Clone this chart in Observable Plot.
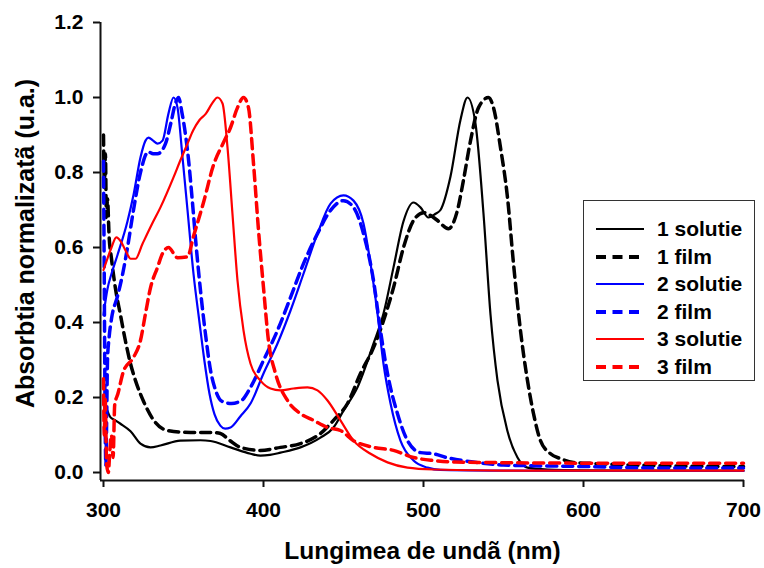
<!DOCTYPE html>
<html>
<head>
<meta charset="utf-8">
<script src="https://cdn.jsdelivr.net/npm/d3@7"></script>
<script src="https://cdn.jsdelivr.net/npm/@observablehq/plot@0.6"></script>
<style>
  html, body { margin: 0; padding: 0; background: #fff; }
  #wrap { position: relative; width: 764px; height: 568px; font-family: "Liberation Sans", Arial, sans-serif; }
  #legend { position: absolute; left: 583px; top: 200px; width: 172px; height: 181px; border: 1px solid #333; background: #fff; box-sizing: border-box; }
  .row { position: absolute; left: 0; height: 28px; width: 170px; }
  .row svg { position: absolute; left: 0; top: 0; }
  .row span { position: absolute; left: 73px; top: 0; line-height: 28px; font-size: 21px; font-weight: bold; color: #000; white-space: nowrap; }
</style>
</head>
<body>
<div id="wrap"></div>
<script>
// ---- data (wavelength nm, normalized absorbance) ----
const sol1 = [[300,0.20],[302,0.17],[304.4,0.147],[307,0.14],[310.6,0.13],[316.9,0.11],[323.1,0.077],[329.4,0.067],[335.6,0.072],[348,0.085],[360.6,0.086],[366.9,0.084],[379.4,0.067],[391.9,0.05],[398.1,0.045],[404,0.047],[410.6,0.053],[423.1,0.067],[435.6,0.093],[443.75,0.12],[450,0.165],[458.75,0.227],[468.75,0.344],[475,0.424],[481.25,0.547],[487.5,0.67],[493.75,0.72],[498.1,0.707],[503.1,0.68],[507.5,0.69],[510.6,0.70],[516.9,0.79],[523.1,0.94],[527.5,1.0],[532.5,0.93],[537.5,0.69],[541.9,0.42],[546.25,0.245],[552.5,0.11],[558.75,0.04],[565,0.013],[577.5,0.008],[600,0.006],[650,0.005],[700,0.005]];
const film1 = [[300,0.9],[300.6,0.76],[301.2,0.85],[301.8,0.68],[302.5,0.73],[303.5,0.63],[305,0.57],[307.5,0.49],[310.6,0.42],[313.75,0.35],[316.9,0.29],[320,0.245],[325,0.19],[331.25,0.14],[340,0.112],[354.4,0.107],[366.9,0.107],[373.1,0.104],[379,0.085],[385.6,0.067],[398.1,0.059],[410.6,0.067],[423.1,0.077],[435.6,0.104],[443.75,0.139],[452.5,0.184],[460.6,0.264],[468.75,0.333],[475,0.405],[481.25,0.493],[487.5,0.6],[493.75,0.672],[500,0.693],[506.25,0.68],[508.75,0.672],[515.6,0.65],[521.25,0.7],[525,0.78],[529.4,0.885],[534.4,0.973],[540.6,1.0],[543.75,0.973],[548.1,0.867],[552.5,0.733],[556.25,0.557],[560.6,0.379],[565,0.245],[568.75,0.157],[573.1,0.085],[579.4,0.05],[585.6,0.037],[593.75,0.027],[606.25,0.024],[650,0.018],[700,0.016]];
const sol2 = [[300,0.42],[302.5,0.49],[305,0.53],[308.75,0.58],[315,0.67],[318.75,0.74],[323.1,0.84],[326.25,0.885],[328.1,0.893],[331,0.885],[333.75,0.877],[336.9,0.885],[340.6,0.957],[343.75,1.0],[346.25,0.973],[349.4,0.84],[352.5,0.7],[356.25,0.53],[360,0.4],[363,0.3],[366.25,0.21],[369.4,0.155],[373,0.125],[376,0.117],[379.4,0.12],[385.6,0.15],[391.9,0.184],[400,0.264],[408.75,0.344],[416.9,0.432],[425,0.53],[433.75,0.637],[441.9,0.717],[450,0.739],[456.25,0.725],[462.5,0.664],[466.9,0.557],[471.25,0.424],[475,0.29],[479.4,0.184],[485.6,0.085],[493.75,0.032],[502.5,0.013],[510.6,0.007],[550,0.005],[600,0.004],[700,0.004]];
const film2 = [[300,0.83],[300.5,0.5],[301,0.15],[301.5,0.02],[302,0.15],[302.5,0.3],[303.5,0.36],[305,0.41],[308.75,0.47],[312,0.53],[315,0.6],[318.75,0.7],[323.1,0.8],[328,0.855],[331,0.85],[333.75,0.85],[338.75,0.877],[342,0.93],[345,0.985],[346.9,1.0],[349,0.96],[350.6,0.92],[353,0.84],[355.6,0.72],[358,0.6],[361,0.47],[364,0.36],[367,0.27],[370,0.22],[374,0.19],[380,0.184],[386.25,0.192],[391.9,0.227],[400,0.299],[408.75,0.379],[416.9,0.467],[425,0.557],[433.75,0.637],[441.9,0.699],[450,0.725],[456.25,0.707],[462.5,0.637],[468.75,0.512],[473.1,0.379],[477.5,0.264],[483.75,0.157],[490,0.085],[498.1,0.053],[506.25,0.05],[514.4,0.04],[533,0.027],[550,0.02],[600,0.016],[650,0.012],[700,0.012]];
const sol3 = [[300,0.54],[302,0.565],[305,0.6],[308,0.627],[311,0.615],[314,0.59],[317,0.57],[320,0.57],[324.4,0.61],[330,0.66],[335.6,0.707],[343.75,0.787],[348,0.832],[352.5,0.877],[356,0.912],[360,0.94],[364,0.957],[368,0.985],[371.25,1.0],[374.4,0.984],[377.5,0.867],[380.6,0.69],[383.75,0.512],[387.5,0.379],[391.9,0.29],[398.1,0.245],[404.4,0.224],[410.6,0.219],[418.75,0.224],[427.5,0.227],[433.75,0.219],[440,0.192],[448.1,0.139],[456.25,0.085],[466.9,0.05],[477.5,0.027],[490,0.013],[506.25,0.008],[550,0.005],[700,0.005]];
const film3 = [[300,0.25],[300.5,0.1],[301,0.2],[302,0.02],[303,0.0],[304,0.06],[305,0.1],[306,0.04],[307,0.18],[309,0.21],[312.5,0.27],[318.75,0.307],[323.1,0.352],[326.25,0.424],[329.4,0.493],[333.75,0.547],[336.9,0.584],[340.6,0.6],[346.25,0.573],[352.5,0.575],[356.25,0.63],[362.5,0.72],[368.75,0.82],[375,0.88],[379.4,0.92],[383.75,0.973],[387.5,1.0],[390.6,0.973],[393.75,0.824],[396.9,0.645],[400,0.493],[403.1,0.352],[407.5,0.264],[415,0.192],[423.1,0.157],[431.25,0.139],[440,0.12],[448.1,0.112],[456.25,0.085],[468.75,0.067],[481.25,0.059],[493.75,0.04],[506.25,0.032],[520,0.028],[600,0.025],[700,0.025]];

const seriesNames = ["1 solutie","1 film","2 solutie","2 film","3 solutie","3 film"];
const seriesData = [sol1, film1, sol2, film2, sol3, film3];
const seriesColors = ["#000000","#000000","#0000ff","#0000ff","#ff0000","#ff0000"];
const seriesDashed = [false, true, false, true, false, true];

const xTicks = [300, 400, 500, 600, 700];
const yTicks = [0, 0.2, 0.4, 0.6, 0.8, 1.0, 1.2];
const xDomain = [298.125, 700.625];
const yDomain = [-0.0213, 1.2];
const xTitle = "Lungimea de undã (nm)";
const yTitle = "Absorbtia normalizatã (u.a.)";

const lineMarks = seriesData.map((data, i) => Plot.line(data, {
  x: d => d[0], y: d => d[1],
  stroke: seriesColors[i],
  strokeWidth: seriesDashed[i] ? 3.5 : 2.2,
  strokeDasharray: seriesDashed[i] ? "10,6" : null,
  curve: "monotone-x"
}));

const chart = Plot.plot({
  width: 764, height: 568,
  marginLeft: 100, marginRight: 20, marginTop: 22, marginBottom: 88,
  style: { fontFamily: "'Liberation Sans', Arial, sans-serif", fontSize: "21px", fontWeight: "bold", color: "#000", background: "#fff", overflow: "visible" },
  x: { domain: xDomain, axis: null },
  y: { domain: yDomain, axis: null },
  marks: [
    ...lineMarks,
    Plot.axisX({ ticks: xTicks, tickFormat: d => String(d), tickSize: 7, tickPadding: 15, label: null, strokeWidth: 2, stroke: "#111", fontSize: 21, fontWeight: "bold" }),
    Plot.axisY({ ticks: yTicks, tickFormat: d3.format(".1f"), tickSize: 7, tickPadding: 10, label: null, strokeWidth: 2, stroke: "#111", fontSize: 21, fontWeight: "bold" }),
    Plot.ruleX([xDomain[0]], { stroke: "#111", strokeWidth: 2 }),
    Plot.ruleY([yDomain[0]], { stroke: "#111", strokeWidth: 2 }),
    Plot.text([xTitle], { text: d => d, frameAnchor: "bottom", textAnchor: "middle", lineAnchor: "middle", dy: 71, fontSize: 24.5, fontWeight: "bold", fill: "#000" }),
    Plot.text([yTitle], { text: d => d, frameAnchor: "left", textAnchor: "middle", lineAnchor: "middle", dx: -75, dy: -8, rotate: -90, fontSize: 25, fontWeight: "bold", fill: "#000" })
  ]
});
const wrap = document.getElementById("wrap");
wrap.appendChild(chart);

// legend
const legend = document.createElement("div");
legend.id = "legend";
const rowCenters = [28, 56, 83, 111, 138, 166];
seriesNames.forEach((name, i) => {
  const row = document.createElement("div");
  row.className = "row";
  row.style.top = (rowCenters[i] - 14) + "px";
  const dash = seriesDashed[i] ? `stroke-dasharray="10,6.5"` : "";
  const sw = seriesDashed[i] ? 4 : 2;
  row.innerHTML = `<svg width="70" height="28"><line x1="12" x2="60" y1="14" y2="14" stroke="${seriesColors[i]}" stroke-width="${sw}" ${dash}/></svg><span>${name}</span>`;
  legend.appendChild(row);
});
wrap.appendChild(legend);
</script>
</body>
</html>
